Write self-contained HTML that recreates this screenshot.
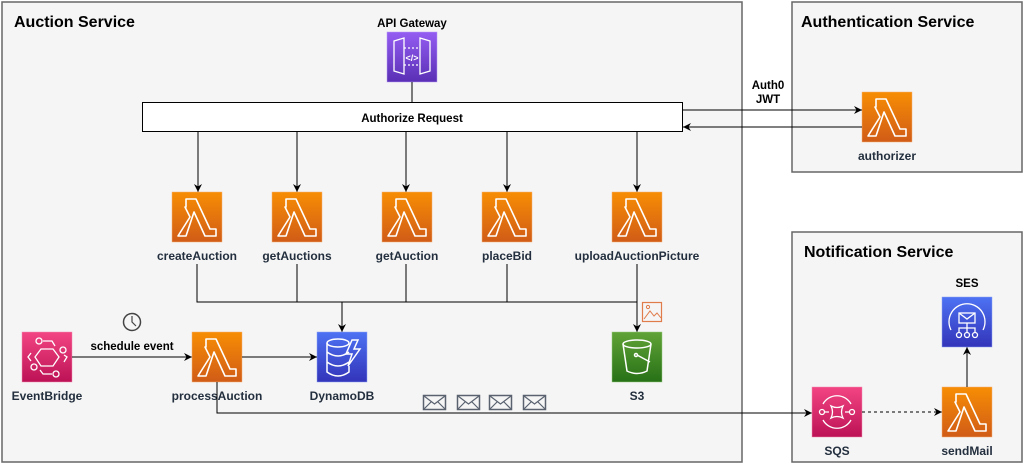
<!DOCTYPE html>
<html><head><meta charset="utf-8"><style>
html,body{margin:0;padding:0;background:#fff;}
svg{display:block;font-family:"Liberation Sans",Arial,sans-serif;}
.t{font-weight:bold;font-size:12px;fill:#232f3e;text-anchor:middle;}
.b{font-weight:bold;font-size:11.5px;fill:#000;text-anchor:middle;}
.h{font-weight:bold;font-size:16px;fill:#000;}
</style></head><body>
<svg width="1024" height="464" viewBox="0 0 1024 464" xmlns="http://www.w3.org/2000/svg">
<defs>
<linearGradient id="go" x1="0" y1="0" x2="0" y2="1"><stop offset="0" stop-color="#f78e04"/><stop offset="1" stop-color="#d05c17"/></linearGradient>
<linearGradient id="gp" x1="0" y1="0" x2="0" y2="1"><stop offset="0" stop-color="#945df2"/><stop offset="1" stop-color="#5a30b5"/></linearGradient>
<linearGradient id="gb" x1="0" y1="0" x2="0" y2="1"><stop offset="0" stop-color="#4d72f3"/><stop offset="1" stop-color="#3334b9"/></linearGradient>
<linearGradient id="gg" x1="0" y1="0" x2="0" y2="1"><stop offset="0" stop-color="#60a337"/><stop offset="1" stop-color="#277116"/></linearGradient>
<linearGradient id="gk" x1="0" y1="0" x2="0" y2="1"><stop offset="0" stop-color="#f34482"/><stop offset="1" stop-color="#bc1356"/></linearGradient>
<g id="lam">
<rect width="50" height="50" fill="url(#go)" stroke="#f5b27a" stroke-width="0.5"/>
<path d="M14 7 H24 L38 37 H44 V44 H33 L22 20 L14 44 H6 L18 25 L13 15 H14 Z" fill="none" stroke="#fff" stroke-width="1.6" stroke-linejoin="round"/>
</g>
<marker id="ar" markerWidth="10" markerHeight="10" refX="8" refY="5" orient="auto" markerUnits="userSpaceOnUse"><path d="M0 1 L8 5 L0 9 L2.5 5 Z" fill="#000"/></marker>
<g id="env"><rect x="0.5" y="0.5" width="22" height="14" fill="none" stroke="#5a6270" stroke-width="1.5"/><path d="M1 1 L11.5 9 L22 1 M1 14 L8 7 M22 14 L15 7" fill="none" stroke="#5a6270" stroke-width="1.2"/></g>
</defs>

<rect x="2" y="2" width="740" height="460" fill="#f5f5f5" stroke="#666" stroke-width="1.5"/>
<rect x="792" y="2" width="230" height="170" fill="#f5f5f5" stroke="#666" stroke-width="1.5"/>
<rect x="792" y="232" width="230" height="230" fill="#f5f5f5" stroke="#666" stroke-width="1.5"/>
<text class="h" x="14" y="27">Auction Service</text>
<text class="h" x="801" y="27">Authentication Service</text>
<text class="h" x="804" y="257">Notification Service</text>

<text class="b" x="412" y="27">API Gateway</text>
<rect x="387" y="32" width="50" height="50" fill="url(#gp)" stroke="#b79cf5" stroke-width="0.5"/>
<path d="M394 41 L404 38 V74 L394 71 Z M430 41 L420 38 V74 L430 71 Z" fill="none" stroke="#fff" stroke-width="1.3"/>
<path d="M404 48 H420 M404 65 H420" stroke="#fff" stroke-width="1.2" stroke-dasharray="2,2"/>
<text x="412" y="61" font-size="9" fill="#fff" text-anchor="middle" font-weight="bold">&lt;/&gt;</text>
<line x1="412" y1="82" x2="412" y2="102" stroke="#000"/>

<rect x="142.5" y="102.5" width="540" height="29" fill="#fff" stroke="#000"/>
<text class="b" x="412" y="122">Authorize Request</text>

<g stroke="#000" marker-end="url(#ar)">
<line x1="198" y1="132" x2="198" y2="192"/>
<line x1="297" y1="132" x2="297" y2="192"/>
<line x1="406" y1="132" x2="406" y2="192"/>
<line x1="507" y1="132" x2="507" y2="192"/>
<line x1="637" y1="132" x2="637" y2="192"/>
</g>
<use href="#lam" x="172" y="192"/>
<use href="#lam" x="272" y="192"/>
<use href="#lam" x="382" y="192"/>
<use href="#lam" x="482" y="192"/>
<use href="#lam" x="612" y="192"/>
<text class="t" x="197" y="260">createAuction</text>
<text class="t" x="297" y="260">getAuctions</text>
<text class="t" x="407" y="260">getAuction</text>
<text class="t" x="507" y="260">placeBid</text>
<text class="t" x="637" y="260">uploadAuctionPicture</text>

<g stroke="#000" fill="none">
<path d="M197 264 V302 H637"/>
<line x1="297" y1="264" x2="297" y2="302"/>
<line x1="406" y1="264" x2="406" y2="302"/>
<line x1="507" y1="264" x2="507" y2="302"/>
<line x1="637" y1="264" x2="637" y2="332" marker-end="url(#ar)"/>
<line x1="342" y1="302" x2="342" y2="332" marker-end="url(#ar)"/>
</g>

<rect x="642.5" y="302.5" width="19" height="19" fill="none" stroke="#e07b4a" stroke-width="1.2"/>
<path d="M644 319 L650 311 L654 316 L657 313 L661 318" fill="none" stroke="#e07b4a" stroke-width="1"/>
<circle cx="648" cy="307" r="1.6" fill="none" stroke="#e07b4a"/>

<rect x="317" y="332" width="50" height="50" fill="url(#gb)" stroke="#8ea4f6" stroke-width="0.5"/>
<g fill="none" stroke="#fff" stroke-width="1.5">
<ellipse cx="338" cy="343" rx="11" ry="4"/>
<path d="M327 343 V372 Q338 380 349 372 V366 M327 352 Q338 360 349 352 M327 362 Q338 370 349 362"/>
<path d="M352 340 L346 354 H352 L348 366 L360 349 H354 L358 340 Z"/>
</g>
<text class="t" x="342" y="400">DynamoDB</text>

<rect x="612" y="332" width="50" height="50" fill="url(#gg)" stroke="#9ccc84" stroke-width="0.5"/>
<g fill="none" stroke="#fff" stroke-width="1.5">
<ellipse cx="637" cy="344" rx="14" ry="4"/>
<path d="M623 344 L627 371 Q637 376 647 371 L651 344"/>
<path d="M637 355 L650 362"/><circle cx="636" cy="355" r="1.5"/>
</g>
<text class="t" x="637" y="400">S3</text>

<rect x="22" y="332" width="50" height="50" fill="url(#gk)" stroke="#f08db3" stroke-width="0.5"/>
<g fill="none" stroke="#fff" stroke-width="1.3">
<path d="M41 349 L53 349 L59 357 L53 366 L41 366 L35 357 Z"/>
<circle cx="39" cy="341" r="3"/><circle cx="56" cy="374" r="3"/><circle cx="34" cy="367" r="3"/><circle cx="63" cy="350" r="3"/>
<path d="M43 341 H52 L55 346 M31 353 L28 357 L31 361 M52 374 H43 L40 370 M64 355 L67 357 L64 362"/>
</g>
<text class="t" x="47" y="400">EventBridge</text>

<circle cx="132" cy="322" r="8.5" fill="none" stroke="#444" stroke-width="1.5"/>
<path d="M132 316 V322 L136 326" fill="none" stroke="#444" stroke-width="1.2"/>
<text class="b" x="132" y="350">schedule event</text>
<line x1="72" y1="357" x2="192" y2="357" stroke="#000" marker-end="url(#ar)"/>

<use href="#lam" x="192" y="332"/>
<text class="t" x="217" y="400">processAuction</text>
<line x1="242" y1="357" x2="317" y2="357" stroke="#000" marker-end="url(#ar)"/>
<path d="M217 382 V413 H812" fill="none" stroke="#000" marker-end="url(#ar)"/>

<use href="#env" x="423" y="395"/>
<use href="#env" x="457" y="395"/>
<use href="#env" x="489" y="395"/>
<use href="#env" x="523" y="395"/>

<use href="#lam" x="862" y="92"/>
<text class="t" x="887" y="160">authorizer</text>
<text class="b" x="768" y="89">Auth0</text>
<text class="b" x="768" y="103">JWT</text>
<line x1="682" y1="110" x2="862" y2="110" stroke="#000" marker-end="url(#ar)"/>
<line x1="862" y1="127" x2="683" y2="127" stroke="#000" marker-end="url(#ar)"/>

<rect x="812" y="387" width="50" height="50" fill="url(#gk)" stroke="#f08db3" stroke-width="0.5"/>
<g fill="none" stroke="#fff" stroke-width="1.3">
<path d="M823 404 A16 16 0 0 1 851 404 M823 420 A16 16 0 0 0 851 420"/>
<circle cx="822" cy="412" r="2.5"/><circle cx="852" cy="412" r="2.5"/>
<path d="M825 412 H829 M845 412 H849"/>
<path d="M831 406 Q837 409 843 406 Q840 412 843 418 Q837 415 831 418 Q834 412 831 406 Z"/>
</g>
<text class="t" x="837" y="455">SQS</text>
<line x1="862" y1="412" x2="942" y2="412" stroke="#000" stroke-dasharray="3,3" marker-end="url(#ar)"/>

<use href="#lam" x="942" y="387"/>
<text class="t" x="967" y="455">sendMail</text>
<line x1="967" y1="387" x2="967" y2="347" stroke="#000" marker-end="url(#ar)"/>

<text class="b" x="967" y="287">SES</text>
<rect x="942" y="297" width="50" height="50" fill="url(#gb)" stroke="#8ea4f6" stroke-width="0.5"/>
<g fill="none" stroke="#fff" stroke-width="1.3">
<path d="M951 330 A18 18 0 1 1 983 330"/>
<rect x="959" y="313" width="16" height="10"/><path d="M959 313 L967 319 L975 313"/>
<path d="M967 323 V328 M959 332 V328 H975 V332 M967 328 V332"/>
<circle cx="959" cy="335" r="2.5"/><circle cx="967" cy="335" r="2.5"/><circle cx="975" cy="335" r="2.5"/>
</g>
</svg>
</body></html>
